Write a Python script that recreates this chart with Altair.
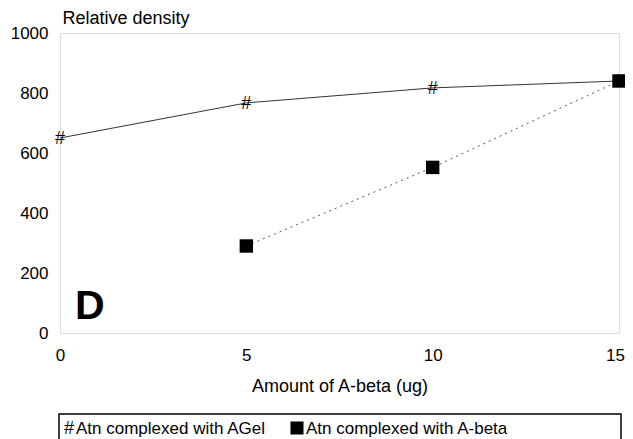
import altair as alt
import pandas as pd

# Series: Atn complexed with AGel
doses_agel = [0, 5, 10, 15]
density_agel = [650, 767, 817, 840]
# Series: Atn complexed with A-beta
doses_abeta = [5, 10, 15]
density_abeta = [290, 552, 840]

series_names = ["Atn complexed with AGel", "Atn complexed with A-beta"]
x_ticks = [0, 5, 10, 15]
y_ticks = [0, 200, 400, 600, 800, 1000]

FONT = "Liberation Sans"

df_agel = pd.DataFrame({"dose": doses_agel, "density": density_agel, "sym": ["#"] * len(doses_agel)})
df_abeta = pd.DataFrame({"dose": doses_abeta, "density": density_abeta})

x_scale = alt.Scale(domain=[0, 15], nice=False, zero=False)
y_scale = alt.Scale(domain=[0, 1000], nice=False)

x_enc = alt.X(
    "dose:Q", scale=x_scale,
    axis=alt.Axis(values=x_ticks, format="d", title="Amount of A-beta (ug)", grid=False, ticks=False,
                  domain=False, labelPadding=14, titlePadding=14, labelFontSize=17, titleFontSize=18,
                  titleFontWeight="normal", labelFont=FONT, titleFont=FONT, labelColor="black",
                  titleColor="black", labelFlush=False, labelBaseline="top",
                  labelOffset={"condition": {"test": "datum.value == 15", "value": -4}, "value": 0}))
y_enc = alt.Y(
    "density:Q", scale=y_scale,
    axis=alt.Axis(values=y_ticks, format="d", title="Relative density", grid=False, ticks=False,
                  domain=False, labelPadding=12, labelFontSize=17, titleFontSize=18,
                  titleFontWeight="normal", labelFont=FONT, titleFont=FONT, labelColor="black",
                  titleColor="black", titleAngle=0, titleAlign="left", titleBaseline="alphabetic",
                  titleX=2, titleY=-10, labelFlush=False))

line_agel = alt.Chart(df_agel).mark_line(color="#333333", strokeWidth=1).encode(
    x=x_enc, y=y_enc)
pts_agel = alt.Chart(df_agel).mark_text(font=FONT, fontSize=18, color="black",
                                        baseline="middle", align="center", dy=1).encode(
    x=alt.X("dose:Q", scale=x_scale), y=alt.Y("density:Q", scale=y_scale), text="sym:N")

line_abeta = alt.Chart(df_abeta).mark_line(color="#555555", strokeWidth=1, strokeDash=[2, 4]).encode(
    x=alt.X("dose:Q", scale=x_scale), y=alt.Y("density:Q", scale=y_scale))
pts_abeta = alt.Chart(df_abeta).mark_point(shape="square", filled=True, color="black", size=180, opacity=1).encode(
    x=alt.X("dose:Q", scale=x_scale), y=alt.Y("density:Q", scale=y_scale))

label_d = alt.Chart(pd.DataFrame({"t": ["D"]})).mark_text(
    font=FONT, fontSize=41, fontWeight="bold", align="left", baseline="alphabetic", color="black").encode(
    x=alt.value(15), y=alt.value(286), text="t:N")

# Manual legend below the plot
legend_box = alt.Chart(pd.DataFrame({"a": [0]})).mark_rect(
    fill="white", stroke="black", strokeWidth=1.5).encode(
    x=alt.value(-1), x2=alt.value(561), y=alt.value(381), y2=alt.value(412))
leg1_sym = alt.Chart(pd.DataFrame({"t": ["#"]})).mark_text(
    font=FONT, fontSize=18, align="left", baseline="alphabetic", color="black").encode(
    x=alt.value(4), y=alt.value(401), text="t:N")
leg1_txt = alt.Chart(pd.DataFrame({"t": [series_names[0]]})).mark_text(
    font=FONT, fontSize=17, align="left", baseline="alphabetic", color="black").encode(
    x=alt.value(16), y=alt.value(401), text="t:N")
leg2_sym = alt.Chart(pd.DataFrame({"t": [series_names[1]]})).mark_point(
    shape="square", filled=True, color="black", size=170, opacity=1).encode(
    x=alt.value(237), y=alt.value(395))
leg2_txt = alt.Chart(pd.DataFrame({"t": [series_names[1]]})).mark_text(
    font=FONT, fontSize=17, align="left", baseline="alphabetic", color="black").encode(
    x=alt.value(246), y=alt.value(401), text="t:N")

chart = alt.layer(
    line_agel, line_abeta, pts_agel, pts_abeta, label_d,
    legend_box, leg1_sym, leg1_txt, leg2_sym, leg2_txt
).properties(
    width=559, height=300,
    autosize=alt.AutoSizeParams(type="none"),
    padding={"left": 52, "top": 25, "right": 6, "bottom": 106},
).configure_view(
    stroke="black", strokeWidth=2
).configure(background="white")

chart.save("out.html", embed_options={"renderer": "svg", "actions": False})
